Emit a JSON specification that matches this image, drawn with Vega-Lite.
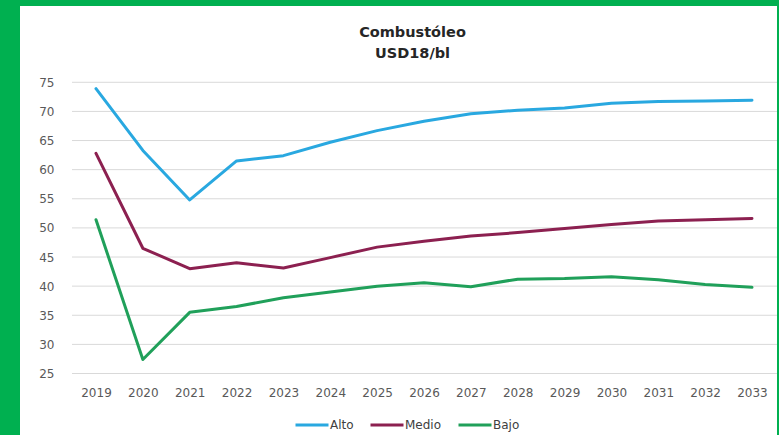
{
  "$schema": "https://vega.github.io/schema/vega-lite/v6.json",
  "autosize": {"type": "none"},
  "width": 757,
  "height": 429,
  "padding": {"left": 20, "top": 6, "right": 2, "bottom": 0},
  "background": "#00b050",
  "config": {
    "view": {"fill": "white", "stroke": null},
    "font": "DejaVu Sans"
  },
  "title": {
    "text": ["Combustóleo", "USD18/bl"],
    "font": "DejaVu Sans",
    "fontSize": 14.5,
    "fontWeight": "bold",
    "color": "#262626",
    "anchor": "middle",
    "baseline": "top",
    "lineHeight": 21,
    "offset": -55,
    "dx": 14
  },
  "layer": [
    {
      "data": {"values": [
        {"v": 25}, {"v": 30}, {"v": 35}, {"v": 40}, {"v": 45}, {"v": 50},
        {"v": 55}, {"v": 60}, {"v": 65}, {"v": 70}, {"v": 75}
      ]},
      "mark": {"type": "rule", "color": "#d9d9d9", "strokeWidth": 1},
      "encoding": {
        "y": {"field": "v", "type": "quantitative", "scale": {"domain": [14.44, 88.1], "nice": false, "zero": false}},
        "x": {"datum": 2018.488, "type": "quantitative", "scale": {"domain": [2017.378, 2033.534], "nice": false, "zero": false}},
        "x2": {"datum": 2033.534}
      }
    },
    {
      "data": {"values": [
        {"year": 2019, "serie": "Alto", "value": 73.9},
        {"year": 2020, "serie": "Alto", "value": 63.3},
        {"year": 2021, "serie": "Alto", "value": 54.8},
        {"year": 2022, "serie": "Alto", "value": 61.5},
        {"year": 2023, "serie": "Alto", "value": 62.4},
        {"year": 2024, "serie": "Alto", "value": 64.7},
        {"year": 2025, "serie": "Alto", "value": 66.7},
        {"year": 2026, "serie": "Alto", "value": 68.3},
        {"year": 2027, "serie": "Alto", "value": 69.6},
        {"year": 2028, "serie": "Alto", "value": 70.2},
        {"year": 2029, "serie": "Alto", "value": 70.6},
        {"year": 2030, "serie": "Alto", "value": 71.4},
        {"year": 2031, "serie": "Alto", "value": 71.7},
        {"year": 2032, "serie": "Alto", "value": 71.8},
        {"year": 2033, "serie": "Alto", "value": 71.9},
        {"year": 2019, "serie": "Medio", "value": 62.8},
        {"year": 2020, "serie": "Medio", "value": 46.5},
        {"year": 2021, "serie": "Medio", "value": 43.0},
        {"year": 2022, "serie": "Medio", "value": 44.0},
        {"year": 2023, "serie": "Medio", "value": 43.1},
        {"year": 2024, "serie": "Medio", "value": 44.9},
        {"year": 2025, "serie": "Medio", "value": 46.7},
        {"year": 2026, "serie": "Medio", "value": 47.7},
        {"year": 2027, "serie": "Medio", "value": 48.6},
        {"year": 2028, "serie": "Medio", "value": 49.2},
        {"year": 2029, "serie": "Medio", "value": 49.9},
        {"year": 2030, "serie": "Medio", "value": 50.6},
        {"year": 2031, "serie": "Medio", "value": 51.2},
        {"year": 2032, "serie": "Medio", "value": 51.4},
        {"year": 2033, "serie": "Medio", "value": 51.6},
        {"year": 2019, "serie": "Bajo", "value": 51.4},
        {"year": 2020, "serie": "Bajo", "value": 27.4},
        {"year": 2021, "serie": "Bajo", "value": 35.5},
        {"year": 2022, "serie": "Bajo", "value": 36.5},
        {"year": 2023, "serie": "Bajo", "value": 38.0},
        {"year": 2024, "serie": "Bajo", "value": 39.0},
        {"year": 2025, "serie": "Bajo", "value": 40.0},
        {"year": 2026, "serie": "Bajo", "value": 40.6},
        {"year": 2027, "serie": "Bajo", "value": 39.9},
        {"year": 2028, "serie": "Bajo", "value": 41.2},
        {"year": 2029, "serie": "Bajo", "value": 41.3},
        {"year": 2030, "serie": "Bajo", "value": 41.6},
        {"year": 2031, "serie": "Bajo", "value": 41.1},
        {"year": 2032, "serie": "Bajo", "value": 40.3},
        {"year": 2033, "serie": "Bajo", "value": 39.8}
      ]},
      "mark": {"type": "line", "strokeWidth": 3, "strokeCap": "round", "strokeJoin": "round"},
      "encoding": {
        "x": {
          "field": "year", "type": "quantitative",
          "scale": {"domain": [2017.378, 2033.534], "nice": false, "zero": false},
          "axis": {
            "title": null, "values": [2019, 2020, 2021, 2022, 2023, 2024, 2025, 2026, 2027, 2028, 2029, 2030, 2031, 2032, 2033],
            "format": "d", "domain": false, "ticks": false, "tickSize": 0, "grid": false,
            "offset": -50, "labelPadding": 2, "labelFont": "DejaVu Sans", "labelFontSize": 12,
            "labelColor": "#595959", "labelFlush": false, "labelOverlap": false
          }
        },
        "y": {
          "field": "value", "type": "quantitative",
          "scale": {"domain": [14.44, 88.1], "nice": false, "zero": false},
          "axis": {
            "title": null, "values": [25, 30, 35, 40, 45, 50, 55, 60, 65, 70, 75],
            "domain": false, "ticks": false, "tickSize": 0, "grid": false,
            "offset": -34, "labelPadding": 0, "labelFont": "DejaVu Sans", "labelFontSize": 12,
            "labelColor": "#595959", "labelFlush": false, "labelOverlap": false
          }
        },
        "color": {
          "field": "serie", "type": "nominal",
          "scale": {"domain": ["Alto", "Medio", "Bajo"], "range": ["#29a8e0", "#8c2050", "#20a05a"]},
          "legend": {
            "title": null, "orient": "none", "direction": "horizontal",
            "legendX": 274, "legendY": 401,
            "symbolType": "stroke", "symbolSize": 1089, "symbolStrokeWidth": 3,
            "labelFont": "DejaVu Sans", "labelFontSize": 12, "labelColor": "#404040",
            "labelOffset": 0, "columnPadding": 10
          }
        }
      }
    }
  ]
}
